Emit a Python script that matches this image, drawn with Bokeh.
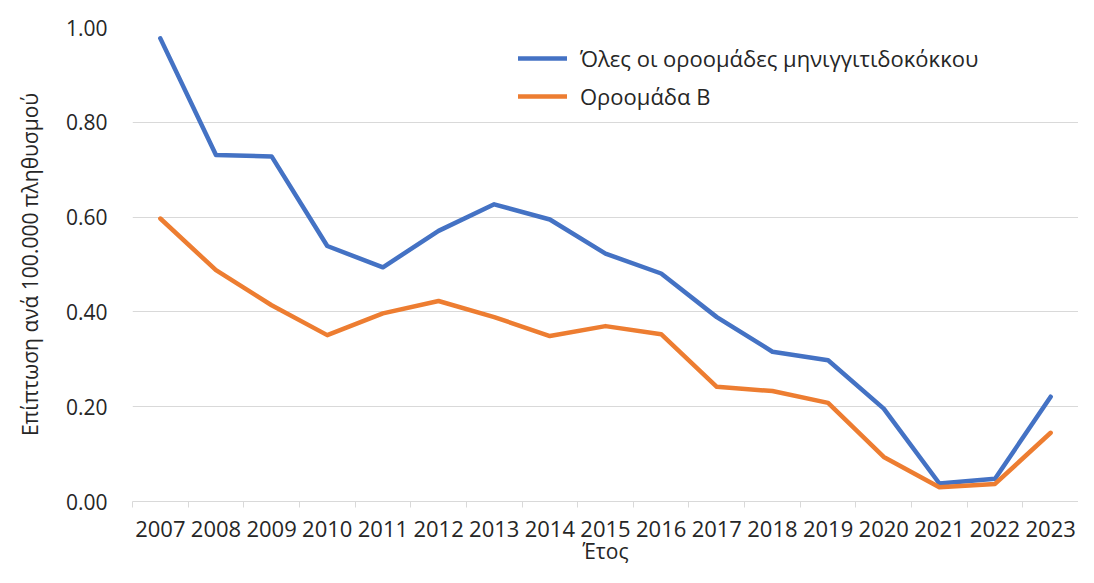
from bokeh.plotting import figure
from bokeh.models import (Range1d, FixedTicker, NumeralTickFormatter, Legend,
                          LegendItem, ColumnDataSource)
from bokeh.embed import file_html
from bokeh.resources import INLINE

years = ["2007", "2008", "2009", "2010", "2011", "2012", "2013", "2014", "2015",
         "2016", "2017", "2018", "2019", "2020", "2021", "2022", "2023"]
all_groups = [0.977, 0.731, 0.728, 0.539, 0.494, 0.571, 0.627, 0.595, 0.523,
              0.481, 0.389, 0.316, 0.298, 0.196, 0.038, 0.048, 0.221]
group_b = [0.597, 0.488, 0.414, 0.351, 0.397, 0.423, 0.389, 0.349, 0.370,
           0.353, 0.242, 0.233, 0.208, 0.094, 0.030, 0.037, 0.145]
y_ticks = [0.0, 0.2, 0.4, 0.6, 0.8, 1.0]
series_names = ["Όλες οι οροομάδες μηνιγγιτιδοκόκκου", "Οροομάδα Β"]
x_title = "Έτος"
y_title = "Επίπτωση ανά 100.000 πληθυσμού"

FONT = "Open Sans"
TXT = "#262626"
GRID = "#d9d9d9"

n = len(years)
xs = list(range(n))

p = figure(width=1078, height=567, output_backend="svg", toolbar_location=None,
           x_range=Range1d(-0.5, n - 0.5), y_range=Range1d(0, 1.0),
           min_border_left=132, min_border_right=0, min_border_top=27,
           min_border_bottom=66)
p.outline_line_color = None
p.background_fill_color = "white"
p.border_fill_color = "white"

src = ColumnDataSource(dict(x=xs, a=all_groups, b=group_b))
r1 = p.line("x", "a", source=src, line_color="#4472C4", line_width=4.5,
            line_join="round", line_cap="round")
r2 = p.line("x", "b", source=src, line_color="#ED7D31", line_width=4.5,
            line_join="round", line_cap="round")

# x axis
xa = p.xaxis[0]
xa.ticker = FixedTicker(ticks=xs, minor_ticks=[i - 0.5 for i in range(n + 1)])
xa.major_label_overrides = {i: y for i, y in zip(xs, years)}
xa.major_tick_line_color = None
xa.major_tick_out = 6
xa.major_tick_in = 0
xa.minor_tick_line_color = GRID
xa.minor_tick_out = 6
xa.minor_tick_in = 0
xa.axis_line_color = GRID
xa.major_label_text_font = FONT
xa.major_label_text_font_size = "22px"
xa.major_label_text_color = TXT
xa.major_label_standoff = 13
xa.axis_label = x_title
xa.axis_label_text_font = FONT
xa.axis_label_text_font_size = "21px"
xa.axis_label_text_font_style = "normal"
xa.axis_label_text_color = TXT
xa.axis_label_standoff = -3

# y axis
ya = p.yaxis[0]
ya.ticker = FixedTicker(ticks=y_ticks)
ya.formatter = NumeralTickFormatter(format="0.00")
ya.axis_line_color = None
ya.major_tick_line_color = None
ya.minor_tick_line_color = None
ya.major_tick_out = 0
ya.major_tick_in = 0
ya.minor_tick_out = 0
ya.minor_tick_in = 0
ya.major_label_text_font = FONT
ya.major_label_text_font_size = "21px"
ya.major_label_text_color = TXT
ya.major_label_standoff = 25
ya.axis_label = y_title
ya.axis_label_text_font = FONT
ya.axis_label_text_font_size = "21px"
ya.axis_label_text_font_style = "normal"
ya.axis_label_text_color = TXT
ya.axis_label_standoff = 19

p.xgrid.visible = False
p.ygrid.ticker = FixedTicker(ticks=y_ticks)
p.ygrid.grid_line_color = GRID
p.ygrid.grid_line_width = 1

legend = Legend(items=[LegendItem(label=series_names[0], renderers=[r1]),
                       LegendItem(label=series_names[1], renderers=[r2])],
                location=(386, 390), glyph_width=49, glyph_height=24,
                label_height=24, spacing=8, padding=0, margin=0,
                border_line_color=None, background_fill_alpha=0,
                label_text_font=FONT, label_text_font_size="22px",
                label_text_color=TXT, label_standoff=13)
p.add_layout(legend)

open("out.html", "w").write(file_html(p, INLINE))
